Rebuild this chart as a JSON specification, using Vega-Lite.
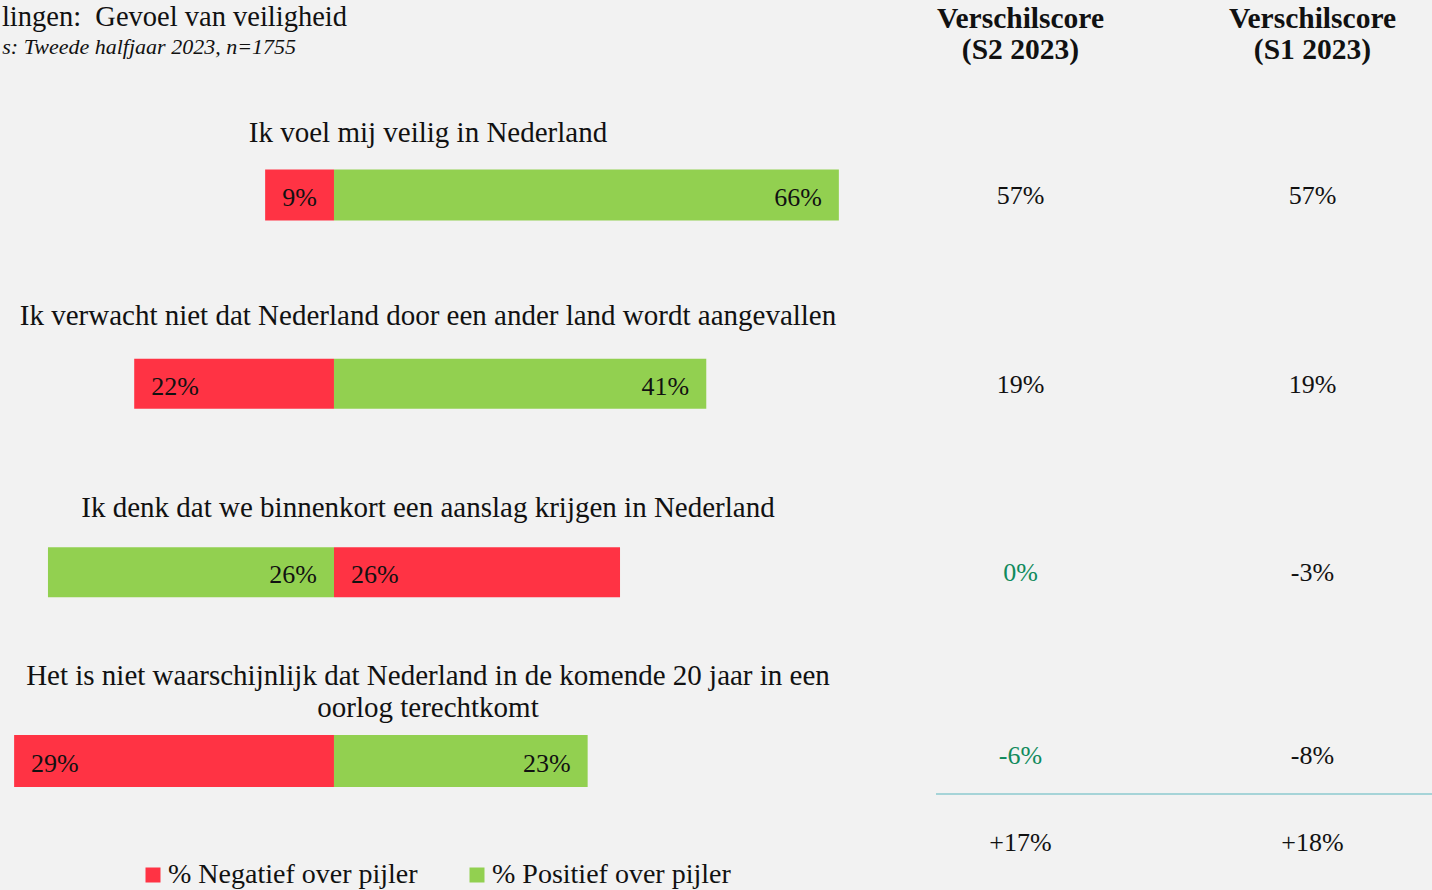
{
  "$schema": "https://vega.github.io/schema/vega-lite/v6.json",
  "padding": 0,
  "background": "#f2f2f2",
  "spacing": 79,
  "config": {
    "view": {"stroke": null},
    "font": "Liberation Serif",
    "text": {"font": "Liberation Serif", "color": "#111111"},
    "legend": {
      "orient": "none", "legendX": 139, "legendY": 861, "direction": "horizontal",
      "symbolType": "square", "symbolSize": 225, "symbolStrokeWidth": 0, "symbolOpacity": 1,
      "labelFont": "Liberation Serif", "labelFontSize": 28, "labelColor": "#111111",
      "labelOffset": 1, "columnPadding": 45, "padding": 0, "labelLimit": 500
    }
  },
  "datasets": {
    "kop": [
      {"soort": "titel", "row": 0, "tekst": "lingen:\u00a0 Gevoel van veiligheid"},
      {"soort": "ondertitel", "row": 0, "tekst": "s: Tweede halfjaar 2023, n=1755"}
    ],
    "vragen": [
      {"row": 1, "tekst": "Ik voel mij veilig in Nederland"},
      {"row": 2, "tekst": "Ik verwacht niet dat Nederland door een ander land wordt aangevallen"},
      {"row": 3, "tekst": "Ik denk dat we binnenkort een aanslag krijgen in Nederland"},
      {"row": 4, "tekst": ["Het is niet waarschijnlijk dat Nederland in de komende 20 jaar in een", "oorlog terechtkomt"]}
    ],
    "balken": [
      {"row": 1, "categorie": "% Negatief over pijler", "van": -9, "tot": 0, "label": "9%"},
      {"row": 1, "categorie": "% Positief over pijler", "van": 0, "tot": 66, "label": "66%"},
      {"row": 2, "categorie": "% Negatief over pijler", "van": -22, "tot": 0, "label": "22%"},
      {"row": 2, "categorie": "% Positief over pijler", "van": 0, "tot": 41, "label": "41%"},
      {"row": 3, "categorie": "% Positief over pijler", "van": -26, "tot": 0, "label": "26%"},
      {"row": 3, "categorie": "% Negatief over pijler", "van": 0, "tot": 26, "label": "26%"},
      {"row": 4, "categorie": "% Negatief over pijler", "van": -29, "tot": 0, "label": "29%"},
      {"row": 4, "categorie": "% Positief over pijler", "van": 0, "tot": 23, "label": "23%"}
    ],
    "koppen": [
      {"periode": "S2 2023", "row": 0, "kop": ["Verschilscore", "(S2 2023)"]},
      {"periode": "S1 2023", "row": 0, "kop": ["Verschilscore", "(S1 2023)"]}
    ],
    "scores": [
      {"periode": "S2 2023", "row": 1, "waarde": "57%", "gemarkeerd": false},
      {"periode": "S1 2023", "row": 1, "waarde": "57%", "gemarkeerd": false},
      {"periode": "S2 2023", "row": 2, "waarde": "19%", "gemarkeerd": false},
      {"periode": "S1 2023", "row": 2, "waarde": "19%", "gemarkeerd": false},
      {"periode": "S2 2023", "row": 3, "waarde": "0%", "gemarkeerd": true},
      {"periode": "S1 2023", "row": 3, "waarde": "-3%", "gemarkeerd": false},
      {"periode": "S2 2023", "row": 4, "waarde": "-6%", "gemarkeerd": true},
      {"periode": "S1 2023", "row": 4, "waarde": "-8%", "gemarkeerd": false},
      {"periode": "S2 2023", "row": 5, "waarde": "+17%", "gemarkeerd": false},
      {"periode": "S1 2023", "row": 5, "waarde": "+18%", "gemarkeerd": false}
    ]
  },
  "hconcat": [
    {
      "width": 856,
      "height": 890,
      "encoding": {
        "y": {"field": "row", "type": "quantitative", "scale": {"domain": [-0.0336, 4.6837], "reverse": true, "nice": false, "zero": false, "padding": 0}, "axis": null}
      },
      "resolve": {"scale": {"x": "independent"}},
      "layer": [
        {
          "data": {"name": "kop"},
          "transform": [{"filter": "datum.soort == 'titel'"}],
          "mark": {"type": "text", "align": "right", "baseline": "alphabetic", "fontSize": 28.5, "dx": -81, "dy": 20},
          "encoding": {"x": {"datum": "links", "type": "nominal", "axis": null}, "text": {"field": "tekst"}}
        },
        {
          "data": {"name": "kop"},
          "transform": [{"filter": "datum.soort == 'ondertitel'"}],
          "mark": {"type": "text", "align": "right", "baseline": "alphabetic", "fontSize": 22, "fontStyle": "italic", "dx": -132, "dy": 48},
          "encoding": {"x": {"datum": "links", "type": "nominal", "axis": null}, "text": {"field": "tekst"}}
        },
        {
          "data": {"name": "vragen"},
          "transform": [{"filter": "datum.row == 1"}],
          "mark": {"type": "text", "align": "center", "baseline": "alphabetic", "fontSize": 29, "dy": -53},
          "encoding": {"x": {"datum": "midden", "type": "nominal", "axis": null}, "text": {"field": "tekst"}}
        },
        {
          "data": {"name": "vragen"},
          "transform": [{"filter": "datum.row == 2"}],
          "mark": {"type": "text", "align": "center", "baseline": "alphabetic", "fontSize": 29, "dy": -59},
          "encoding": {"x": {"datum": "midden", "type": "nominal", "axis": null}, "text": {"field": "tekst"}}
        },
        {
          "data": {"name": "vragen"},
          "transform": [{"filter": "datum.row == 3"}],
          "mark": {"type": "text", "align": "center", "baseline": "alphabetic", "fontSize": 29, "dy": -55},
          "encoding": {"x": {"datum": "midden", "type": "nominal", "axis": null}, "text": {"field": "tekst"}}
        },
        {
          "data": {"name": "vragen"},
          "transform": [{"filter": "datum.row == 4"}],
          "mark": {"type": "text", "align": "center", "baseline": "alphabetic", "fontSize": 29, "dy": -76, "lineHeight": 32},
          "encoding": {"x": {"datum": "midden", "type": "nominal", "axis": null}, "text": {"field": "tekst"}}
        },
        {
          "data": {"name": "balken"},
          "transform": [{"filter": "datum.row == 1"}],
          "layer": [
            {
              "mark": {"type": "bar", "size": 51},
              "encoding": {
                "x": {"field": "van", "type": "quantitative", "scale": {"domain": [-43.66, 68.24], "nice": false, "zero": false}, "axis": null},
                "x2": {"field": "tot"},
                "color": {"field": "categorie", "type": "nominal", "scale": {"domain": ["% Negatief over pijler", "% Positief over pijler"], "range": ["#ff3344", "#92d050"]}, "legend": {"title": null}}
              }
            },
            {
              "transform": [{"filter": "datum.categorie == '% Negatief over pijler'"}],
              "mark": {"type": "text", "align": "left", "baseline": "alphabetic", "dx": 17, "dy": 11, "fontSize": 26},
              "encoding": {"x": {"field": "van", "type": "quantitative", "scale": {"domain": [-43.66, 68.24], "nice": false, "zero": false}, "axis": null}, "text": {"field": "label"}}
            },
            {
              "transform": [{"filter": "datum.categorie == '% Positief over pijler'"}],
              "mark": {"type": "text", "align": "right", "baseline": "alphabetic", "dx": -17, "dy": 11, "fontSize": 26},
              "encoding": {"x": {"field": "tot", "type": "quantitative", "scale": {"domain": [-43.66, 68.24], "nice": false, "zero": false}, "axis": null}, "text": {"field": "label"}}
            }
          ]
        },
        {
          "data": {"name": "balken"},
          "transform": [{"filter": "datum.row == 2"}],
          "layer": [
            {
              "mark": {"type": "bar", "size": 50},
              "encoding": {
                "x": {"field": "van", "type": "quantitative", "scale": {"domain": [-36.78, 57.49], "nice": false, "zero": false}, "axis": null},
                "x2": {"field": "tot"},
                "color": {"field": "categorie", "type": "nominal", "scale": {"domain": ["% Negatief over pijler", "% Positief over pijler"], "range": ["#ff3344", "#92d050"]}, "legend": {"title": null}}
              }
            },
            {
              "transform": [{"filter": "datum.categorie == '% Negatief over pijler'"}],
              "mark": {"type": "text", "align": "left", "baseline": "alphabetic", "dx": 17, "dy": 11, "fontSize": 26},
              "encoding": {"x": {"field": "van", "type": "quantitative", "scale": {"domain": [-36.78, 57.49], "nice": false, "zero": false}, "axis": null}, "text": {"field": "label"}}
            },
            {
              "transform": [{"filter": "datum.categorie == '% Positief over pijler'"}],
              "mark": {"type": "text", "align": "right", "baseline": "alphabetic", "dx": -17, "dy": 11, "fontSize": 26},
              "encoding": {"x": {"field": "tot", "type": "quantitative", "scale": {"domain": [-36.78, 57.49], "nice": false, "zero": false}, "axis": null}, "text": {"field": "label"}}
            }
          ]
        },
        {
          "data": {"name": "balken"},
          "transform": [{"filter": "datum.row == 3"}],
          "layer": [
            {
              "mark": {"type": "bar", "size": 50},
              "encoding": {
                "x": {"field": "van", "type": "quantitative", "scale": {"domain": [-30.36, 47.45], "nice": false, "zero": false}, "axis": null},
                "x2": {"field": "tot"},
                "color": {"field": "categorie", "type": "nominal", "scale": {"domain": ["% Negatief over pijler", "% Positief over pijler"], "range": ["#ff3344", "#92d050"]}, "legend": {"title": null}}
              }
            },
            {
              "transform": [{"filter": "datum.categorie == '% Negatief over pijler'"}],
              "mark": {"type": "text", "align": "left", "baseline": "alphabetic", "dx": 17, "dy": 11, "fontSize": 26},
              "encoding": {"x": {"field": "van", "type": "quantitative", "scale": {"domain": [-30.36, 47.45], "nice": false, "zero": false}, "axis": null}, "text": {"field": "label"}}
            },
            {
              "transform": [{"filter": "datum.categorie == '% Positief over pijler'"}],
              "mark": {"type": "text", "align": "right", "baseline": "alphabetic", "dx": -17, "dy": 11, "fontSize": 26},
              "encoding": {"x": {"field": "tot", "type": "quantitative", "scale": {"domain": [-30.36, 47.45], "nice": false, "zero": false}, "axis": null}, "text": {"field": "label"}}
            }
          ]
        },
        {
          "data": {"name": "balken"},
          "transform": [{"filter": "datum.row == 4"}],
          "layer": [
            {
              "mark": {"type": "bar", "size": 52},
              "encoding": {
                "x": {"field": "van", "type": "quantitative", "scale": {"domain": [-30.28, 47.33], "nice": false, "zero": false}, "axis": null},
                "x2": {"field": "tot"},
                "color": {"field": "categorie", "type": "nominal", "scale": {"domain": ["% Negatief over pijler", "% Positief over pijler"], "range": ["#ff3344", "#92d050"]}, "legend": {"title": null}}
              }
            },
            {
              "transform": [{"filter": "datum.categorie == '% Negatief over pijler'"}],
              "mark": {"type": "text", "align": "left", "baseline": "alphabetic", "dx": 17, "dy": 11, "fontSize": 26},
              "encoding": {"x": {"field": "van", "type": "quantitative", "scale": {"domain": [-30.28, 47.33], "nice": false, "zero": false}, "axis": null}, "text": {"field": "label"}}
            },
            {
              "transform": [{"filter": "datum.categorie == '% Positief over pijler'"}],
              "mark": {"type": "text", "align": "right", "baseline": "alphabetic", "dx": -17, "dy": 11, "fontSize": 26},
              "encoding": {"x": {"field": "tot", "type": "quantitative", "scale": {"domain": [-30.28, 47.33], "nice": false, "zero": false}, "axis": null}, "text": {"field": "label"}}
            }
          ]
        }
      ]
    },
    {
      "width": 497,
      "height": 890,
      "layer": [
        {
          "data": {"name": "koppen"},
          "mark": {"type": "text", "align": "center", "baseline": "alphabetic", "fontSize": 29.5, "fontWeight": "bold", "dy": 21.7, "lineHeight": 31},
          "encoding": {
            "x": {"field": "periode", "type": "nominal", "scale": {"type": "point", "domain": ["S2 2023", "S1 2023"], "padding": 0.351, "align": 0.412}, "axis": null},
            "y": {"field": "row", "type": "quantitative", "scale": {"domain": [-0.0336, 4.6837], "reverse": true, "nice": false, "zero": false, "padding": 0}, "axis": null},
            "text": {"field": "kop"}
          }
        },
        {
          "data": {"name": "scores"},
          "transform": [{"filter": "datum.row <= 3"}],
          "mark": {"type": "text", "align": "center", "baseline": "alphabetic", "fontSize": 26, "dy": 9},
          "encoding": {
            "x": {"field": "periode", "type": "nominal", "scale": {"type": "point", "domain": ["S2 2023", "S1 2023"], "padding": 0.351, "align": 0.412}, "axis": null},
            "y": {"field": "row", "type": "quantitative", "scale": {"domain": [-0.0336, 4.6837], "reverse": true, "nice": false, "zero": false, "padding": 0}, "axis": null},
            "text": {"field": "waarde"},
            "color": {"condition": {"test": "datum.gemarkeerd", "value": "#108a5c"}, "value": "#111111"}
          }
        },
        {
          "data": {"name": "scores"},
          "transform": [{"filter": "datum.row == 4"}],
          "mark": {"type": "text", "align": "center", "baseline": "alphabetic", "fontSize": 26, "dy": 2.5},
          "encoding": {
            "x": {"field": "periode", "type": "nominal", "scale": {"type": "point", "domain": ["S2 2023", "S1 2023"], "padding": 0.351, "align": 0.412}, "axis": null},
            "y": {"field": "row", "type": "quantitative", "scale": {"domain": [-0.0336, 4.6837], "reverse": true, "nice": false, "zero": false, "padding": 0}, "axis": null},
            "text": {"field": "waarde"},
            "color": {"condition": {"test": "datum.gemarkeerd", "value": "#108a5c"}, "value": "#111111"}
          }
        },
        {
          "data": {"name": "scores"},
          "transform": [{"filter": "datum.row == 5"}],
          "mark": {"type": "text", "align": "center", "baseline": "alphabetic", "fontSize": 26, "dy": -99},
          "encoding": {
            "x": {"field": "periode", "type": "nominal", "scale": {"type": "point", "domain": ["S2 2023", "S1 2023"], "padding": 0.351, "align": 0.412}, "axis": null},
            "y": {"field": "row", "type": "quantitative", "scale": {"domain": [-0.0336, 4.6837], "reverse": true, "nice": false, "zero": false, "padding": 0}, "axis": null},
            "text": {"field": "waarde"},
            "color": {"value": "#111111"}
          }
        },
        {
          "data": {"values": [{}]},
          "mark": {"type": "rule", "color": "#a6d4d8", "strokeWidth": 2},
          "encoding": {
            "y": {"datum": 4.175, "type": "quantitative", "scale": {"domain": [-0.0336, 4.6837], "reverse": true, "nice": false, "zero": false, "padding": 0}, "axis": null}
          }
        }
      ]
    }
  ]
}
